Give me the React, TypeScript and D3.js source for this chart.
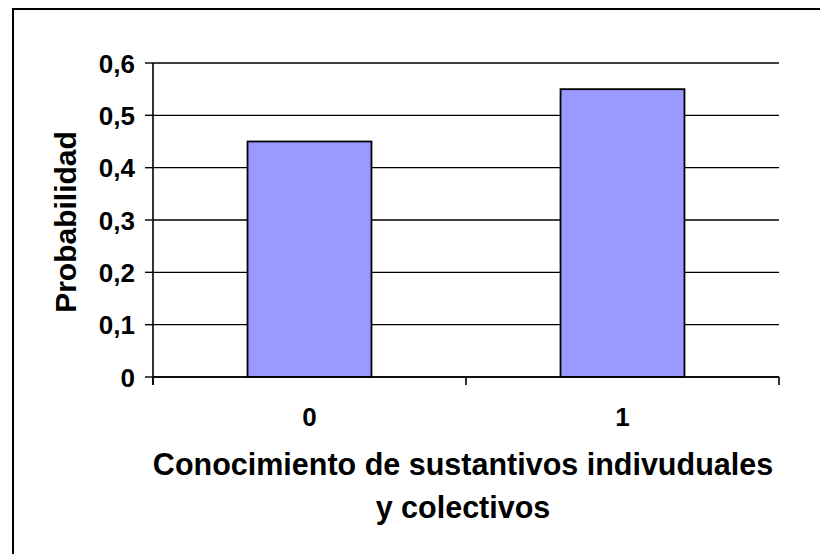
import React from "react";
import * as d3 from "d3";

const categories = ["0", "1"];
const probabilities = [0.45, 0.55];
const yTicks = [0, 0.1, 0.2, 0.3, 0.4, 0.5, 0.6];
const yTitle = "Probabilidad";
const xTitleLines = ["Conocimiento de sustantivos indivuduales", "y colectivos"];

const W = 820;
const H = 554;
const left = 153;
const right = 779;
const top = 63;
const bottom = 377;
const FONT = "'Liberation Sans', Arial, sans-serif";

export default function App() {
  const x = d3
    .scaleBand<string>()
    .domain(categories)
    .range([left, right])
    .paddingInner(0.604)
    .paddingOuter(0.302);
  const y = d3.scaleLinear().domain([0, 0.6]).range([bottom, top]);
  const fmt = (v: number) => (v === 0 ? "0" : d3.format(".1f")(v).replace(".", ","));
  const step = x.step();
  const boundaries = d3.range(categories.length + 1).map((i) => left + i * step);

  return (
    <svg
      width={W}
      height={H}
      style={{ position: "absolute", left: 0, top: 0, background: "#fff" }}
      fontFamily={FONT}
    >
      {/* outer frame */}
      <line x1={13} y1={8} x2={13} y2={H} stroke="#000" strokeWidth={2} />
      <line x1={12} y1={9} x2={W} y2={9} stroke="#000" strokeWidth={2} />

      {/* gridlines */}
      {yTicks.map((t) => (
        <line key={"g" + t} x1={left} x2={right} y1={y(t)} y2={y(t)} stroke="#000" strokeWidth={1.4} />
      ))}

      {/* bars */}
      {categories.map((c, i) => (
        <rect
          key={c}
          x={x(c)}
          y={y(probabilities[i])}
          width={x.bandwidth()}
          height={y(0) - y(probabilities[i])}
          fill="#9999FF"
          stroke="#000"
          strokeWidth={1.8}
        />
      ))}

      {/* y axis */}
      <line x1={left} x2={left} y1={top} y2={bottom + 8} stroke="#000" strokeWidth={1.6} />
      {yTicks.map((t) => (
        <g key={"t" + t}>
          <line x1={left - 8} x2={left} y1={y(t)} y2={y(t)} stroke="#000" strokeWidth={1.4} />
          <text
            x={135}
            y={y(t) + 9.5}
            textAnchor="end"
            fontSize={26}
            fontWeight="bold"
            fill="#000"
          >
            {fmt(t)}
          </text>
        </g>
      ))}

      {/* x axis */}
      <line x1={left} x2={right} y1={bottom} y2={bottom} stroke="#000" strokeWidth={1.6} />
      {boundaries.map((b, i) => (
        <line key={"xb" + i} x1={b} x2={b} y1={bottom} y2={bottom + 8} stroke="#000" strokeWidth={1.6} />
      ))}
      {categories.map((c) => (
        <text
          key={"xl" + c}
          x={(x(c) as number) + x.bandwidth() / 2}
          y={426}
          textAnchor="middle"
          fontSize={26}
          fontWeight="bold"
          fill="#000"
        >
          {c}
        </text>
      ))}

      {/* titles */}
      {xTitleLines.map((l, i) => (
        <text
          key={"xt" + i}
          x={(left + right) / 2 - 3}
          y={475 + i * 43}
          textAnchor="middle"
          fontSize={30.5}
          fontWeight="bold"
          fill="#000"
        >
          {l}
        </text>
      ))}
      <text
        transform={`translate(76, ${(top + bottom) / 2 + 2}) rotate(-90)`}
        textAnchor="middle"
        fontSize={30}
        fontWeight="bold"
        fill="#000"
      >
        {yTitle}
      </text>
    </svg>
  );
}
